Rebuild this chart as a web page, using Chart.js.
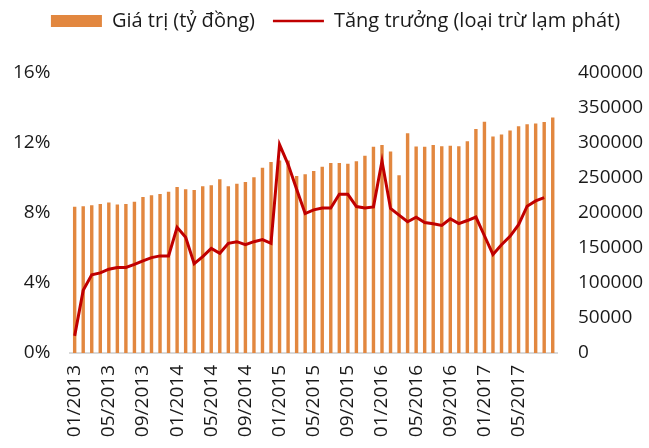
<!DOCTYPE html>
<html>
<head>
<meta charset="utf-8">
<script src="https://cdn.jsdelivr.net/npm/chart.js@4"></script>
<style>
  html, body { margin: 0; padding: 0; background: #fff; }
  #wrap { width: 649px; height: 448px; }
</style>
</head>
<body>
<div id="wrap"><canvas id="dataChart"></canvas></div>
<script>
// thang/nam
const months = [
  '01/2013','02/2013','03/2013','04/2013','05/2013','06/2013','07/2013','08/2013','09/2013','10/2013','11/2013','12/2013',
  '01/2014','02/2014','03/2014','04/2014','05/2014','06/2014','07/2014','08/2014','09/2014','10/2014','11/2014','12/2014',
  '01/2015','02/2015','03/2015','04/2015','05/2015','06/2015','07/2015','08/2015','09/2015','10/2015','11/2015','12/2015',
  '01/2016','02/2016','03/2016','04/2016','05/2016','06/2016','07/2016','08/2016','09/2016','10/2016','11/2016','12/2016',
  '01/2017','02/2017','03/2017','04/2017','05/2017','06/2017','07/2017','08/2017','09/2017'
];

// gia tri (ty dong)
const values = [
  208800, 209800, 211200, 213000, 215000, 212100, 213000, 215900, 223000, 225400, 227300, 230500,
  237200, 234000, 233000, 238200, 239600, 248100, 238200, 241900, 244300, 251000, 264600, 272700,
  275100, 275100, 252800, 255200, 259900, 266100, 271300, 271300, 270300, 274100, 281700, 294500,
  297300, 287700, 253800, 313900, 294900, 294500, 297300, 295500, 295900, 295500, 302600, 320000,
  330500, 309200, 312000, 317700, 323900, 326700, 327700, 330000, 336600
];

// tang truong (%), loai tru lam phat
const growth = [
  0.98, 3.58, 4.47, 4.58, 4.79, 4.89, 4.89, 5.06, 5.27, 5.45, 5.55, 5.55,
  7.18, 6.61, 5.10, 5.51, 5.98, 5.70, 6.27, 6.36, 6.19, 6.36, 6.48, 6.27,
  11.91, 10.78, 9.36, 7.97, 8.18, 8.28, 8.28, 9.07, 9.07, 8.37, 8.28, 8.35,
  10.97, 8.26, 7.88, 7.50, 7.76, 7.46, 7.39, 7.29, 7.67, 7.39, 7.57, 7.77,
  6.70, 5.63, 6.19, 6.67, 7.33, 8.39, 8.69, 8.88, null
];

const barColor = '#e2873f';
const lineColor = '#c00000';
const font = { family: "'Open Sans', sans-serif", size: 19 };
const legendFont = { family: "'Open Sans', sans-serif", size: 20 };

Chart.defaults.color = '#1a1a1a';

// extra room under the legend
const legendGap = {
  id: 'legendGap',
  afterInit(chart) {
    const fit = chart.legend.fit;
    chart.legend.fit = function () {
      fit.call(this);
      this.height += 32;
    };
  }
};

new Chart(document.getElementById('dataChart'), {
  type: 'bar',
  plugins: [legendGap],
  data: {
    labels: months,
    datasets: [
      {
        label: 'Giá trị (tỷ đồng)',
        data: values,
        yAxisID: 'y1',
        backgroundColor: barColor,
        categoryPercentage: 1,
        barPercentage: 0.4,
        order: 2
      },
      {
        type: 'line',
        label: 'Tăng trưởng (loại trừ lạm phát)',
        data: growth,
        yAxisID: 'y',
        borderColor: lineColor,
        backgroundColor: lineColor,
        borderWidth: 3,
        pointRadius: 0,
        tension: 0,
        order: 1
      }
    ]
  },
  options: {
    responsive: true,
    maintainAspectRatio: false,
    animation: false,
    layout: { padding: { top: -7, left: 0, right: -22, bottom: 0 } },
    scales: {
      x: {
        grid: { display: false, drawTicks: false },
        border: { color: '#d9d9d9', width: 2 },
        ticks: {
          font: font,
          autoSkip: false,
          maxRotation: 90,
          minRotation: 90,
          padding: 12,
          callback: function (value, index) {
            return (index % 4 === 0 && index < 56) ? months[index] : '';
          }
        },
        afterFit: function (s) { s.height = 95; }
      },
      y: {
        position: 'left',
        min: 0,
        max: 16,
        grid: { display: false, drawTicks: false },
        border: { display: false },
        ticks: {
          font: font,
          stepSize: 4,
          padding: 20,
          callback: function (value) { return value + '%'; }
        },
        afterFit: function (s) { s.width = 70.4; }
      },
      y1: {
        position: 'right',
        min: 0,
        max: 400000,
        grid: { display: false, drawTicks: false },
        border: { display: false },
        ticks: {
          font: font,
          stepSize: 50000,
          padding: 21,
          callback: function (value) { return String(value); }
        },
        afterFit: function (s) { s.width = 114; }
      }
    },
    plugins: {
      tooltip: { enabled: false },
      legend: {
        display: true,
        position: 'top',
        labels: {
          font: legendFont,
          color: '#1a1a1a',
          usePointStyle: true,
          pointStyleWidth: 51,
          boxHeight: 12,
          padding: 18,
          generateLabels: function (chart) {
            return chart.data.datasets.map(function (ds, i) {
              const isLine = ds.type === 'line';
              return {
                text: ds.label,
                datasetIndex: i,
                fillStyle: isLine ? lineColor : barColor,
                strokeStyle: isLine ? lineColor : barColor,
                lineWidth: isLine ? 2.5 : 0,
                pointStyle: isLine ? 'line' : 'rect',
                fontColor: '#1a1a1a'
              };
            });
          }
        }
      }
    }
  }
});
</script>
</body>
</html>
